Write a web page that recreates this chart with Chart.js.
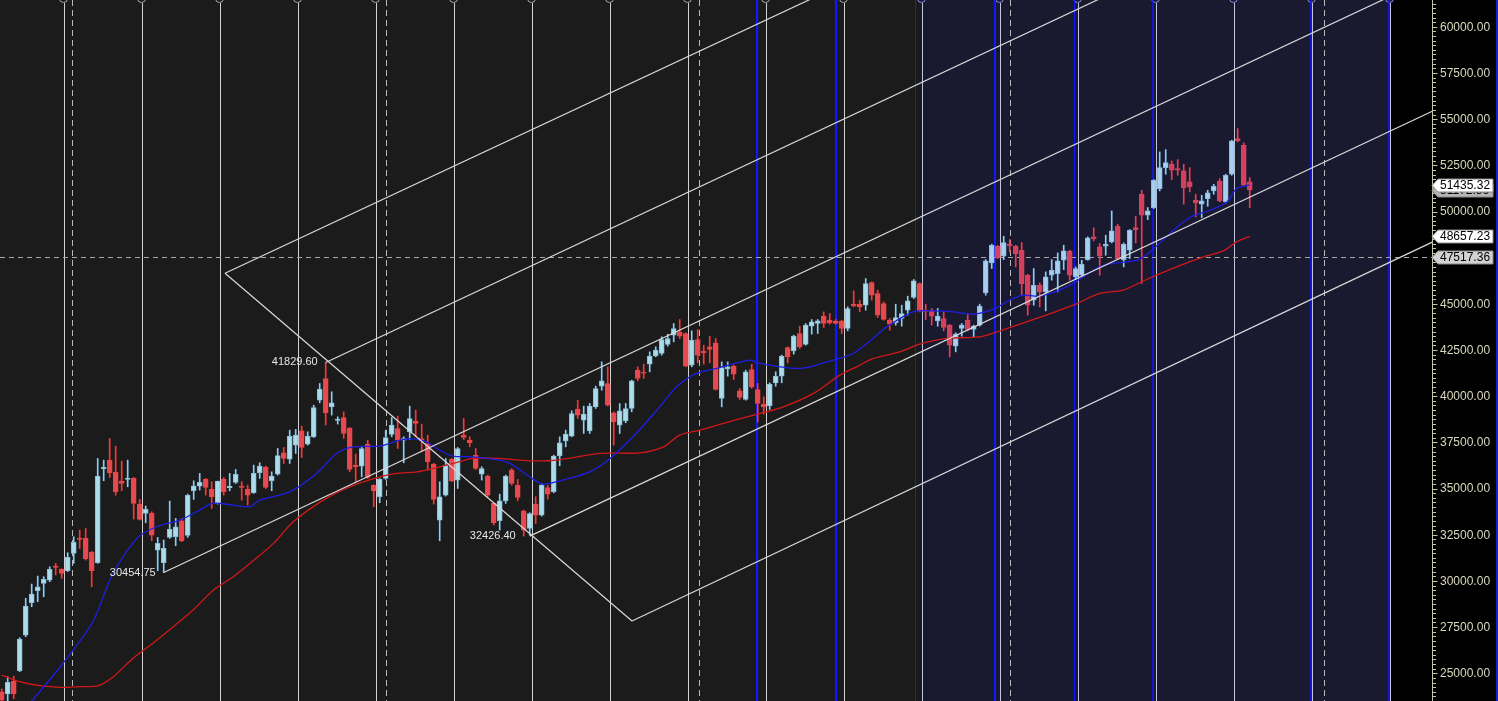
<!DOCTYPE html>
<html>
<head>
<meta charset="utf-8">
<title>Weekly chart</title>
<script src="https://cdn.jsdelivr.net/npm/chart.js@4.4.1/dist/chart.umd.min.js"></script>
<style>
  html, body { margin: 0; padding: 0; background: #000; }
  canvas { display: block; }
</style>
</head>
<body>
<canvas id="weeklyChart" width="1498" height="701"></canvas>
<script>
/* Weekly candles (index = week number) */
const opens = [
  24000, 23877, 24581, 25140, 27070, 28820, 29470, 29866, 30047, 30804,
  30624, 30552, 31490, 32320, 32302, 31562, 30985, 36072, 36541, 35874,
  35405, 35495, 35549, 34160, 33655, 33655, 31670, 30985, 32356, 32392,
  33258, 32464, 34882, 35134, 35495, 34954, 34196, 35495, 35044, 35333,
  35134, 34954, 34773, 35855, 36162, 35422, 35783, 36938, 36595, 37352,
  38128, 37406, 37803, 39788, 40961, 39427, 38687, 38850, 38273, 36270,
  36216, 37406, 35170, 34556, 35549, 37930, 38254, 37623, 38074, 38651,
  37713, 37442, 36324, 33293, 34646, 36577, 35458, 37894, 37623, 36811,
  35783, 35675, 34196, 33256, 34338, 36000, 35187, 33798, 32841, 34158,
  33563, 35060, 34826, 36774, 37586, 37838, 39300, 38704, 38127, 39426,
  40544, 40689, 39101, 38434, 38668, 39336, 41410, 41302, 41735, 42186,
  42312, 42799, 43305, 43485, 43395, 41681, 43070, 42439, 42673, 42890,
  39877, 41482, 41627, 40292, 39823, 41447, 40364, 39570, 39480, 40725,
  41086, 42637, 42457, 43395, 42800, 43792, 43936, 44333, 44116, 44062,
  44062, 43666, 44982, 44982, 44928, 46155, 45560, 45018, 44116, 43972,
  44207, 44658, 45343, 46101, 44658, 44622, 44080, 44207, 43846, 42709,
  43666, 44116, 43611, 43846, 45596, 47219, 48120, 47579, 48228, 48120,
  47903, 46550, 45197, 46009, 45648, 46550, 46640, 47362, 47849, 46460,
  46550, 47398, 48625, 48084, 48120, 48354, 49202, 47398, 47903, 49130,
  50934, 49797, 50213, 51241, 52377, 52558, 52323, 52197, 51602, 50609,
  50393, 50699, 51115, 51638, 50519, 52016, 53947, 53586, 51602
];
const highs = [
  24150, 24815, 24851, 26926, 29055, 29830, 30263, 30227, 30768, 30949,
  30660, 31526, 32392, 32753, 32843, 31600, 36631, 36541, 37714, 37299,
  36487, 36541, 35603, 34413, 34052, 33745, 32356, 32212, 34322, 33384,
  33384, 34701, 35423, 35820, 35549, 35369, 35405, 35603, 35820, 36036,
  35369, 35188, 36270, 36396, 36216, 35909, 37172, 37226, 38164, 38200,
  38381, 38074, 39517, 40690, 41829.6, 40239, 38886, 39156, 38309, 36865,
  37226, 37623, 35206, 35549, 38164, 38850, 38922, 37803, 39463, 39247,
  38489, 37894, 36360, 35368, 36631, 36631, 37226, 38796, 37803, 37172,
  36180, 35729, 34232, 34699, 35728, 36089, 35493, 33834, 33689, 34555,
  35241, 35187, 36810, 37802, 38163, 39210, 39787, 39462, 39606, 40544,
  41861, 41591, 39155, 39606, 39606, 40869, 41591, 41735, 42403, 42673,
  43214, 43359, 43936, 44152, 43431, 43539, 43611, 42763, 43250, 43124,
  41861, 41861, 41681, 40418, 41410, 41735, 40689, 39967, 40725, 41320,
  42222, 42673, 43305, 43792, 43936, 44152, 44152, 44567, 44477, 44152,
  44116, 44838, 45704, 45199, 46371, 46191, 45740, 45109, 44207, 44982,
  44928, 45415, 46317, 46137, 44982, 44748, 44748, 44567, 43882, 43431,
  43936, 44441, 43846, 44982, 47400, 48230, 48156, 48661, 48481, 48174,
  48318, 46604, 46911, 46135, 46731, 47398, 47759, 48174, 47903, 47001,
  47362, 48625, 49112, 48264, 48715, 50032, 49310, 48300, 49022, 49743,
  51151, 50213, 51728, 53225, 53351, 52738, 52810, 52558, 52377, 50934,
  50880, 51151, 51475, 51782, 52016, 53857, 54488, 53712, 51836
];
const lows = [
  23450, 23498, 23625, 25086, 26980, 28604, 28874, 29145, 29957, 30317,
  30137, 30500, 30949, 31761, 31129, 29686, 30949, 35423, 35603, 34647,
  34882, 35098, 33348, 33294, 33150, 32176, 30552, 30454.75, 32302, 31905,
  32121, 32356, 34413, 34918, 34647, 33925, 34160, 34647, 34882, 35278,
  34376, 34106, 34737, 35549, 35007, 34881, 35729, 36360, 36360, 36902,
  36685, 37352, 37767, 39643, 38435, 38976, 38489, 37713, 35909, 35314,
  35639, 35549, 34015, 34232, 35495, 37803, 37172, 36396, 37659, 37803,
  36992, 35999, 34159, 32175, 34592, 35368, 35007, 37659, 37262, 36035,
  35458, 34556, 33023, 32751, 34194, 35187, 34338, 32426.4, 32480, 33112,
  33509, 34429, 34772, 36233, 37261, 37802, 38795, 37983, 37983, 39336,
  40328, 39462, 37351, 37983, 38560, 39155, 40833, 40959, 41320, 42132,
  42222, 42709, 42944, 43124, 41591, 41591, 41807, 41735, 41807, 40328,
  39426, 41086, 40905, 39823, 39787, 40418, 38614, 39029, 39282, 40544,
  40725, 41807, 42276, 42583, 42763, 43359, 43395, 43720, 43900, 43900,
  43395, 43540, 44838, 44567, 44658, 45199, 44261, 44116, 43575, 43846,
  43792, 44387, 45289, 44567, 44152, 43846, 43792, 43540, 42132, 42403,
  43250, 43540, 43214, 43792, 45469, 46913, 47452, 47398, 47813, 47001,
  45468, 44386, 44927, 44837, 44620, 46280, 45648, 46857, 46280, 46316,
  46496, 47362, 48408, 46550, 47633, 48300, 47398, 47001, 47452, 48300,
  46099, 49563, 50159, 51115, 52017, 51728, 51962, 50393, 51061, 49707,
  49671, 50285, 50934, 50519, 50465, 51962, 53766, 51367, 50213
];
const closes = [
  23550, 24509, 23877, 26854, 28640, 29289, 29686, 30083, 30624, 30732,
  30408, 31274, 32085, 32248, 31201, 30552, 35675, 36144, 35856, 34827,
  35278, 35549, 34196, 33330, 33871, 32482, 32031, 31761, 32789, 32933,
  32176, 34629, 35152, 35333, 35062, 34557, 35405, 34827, 35116, 35766,
  35062, 34647, 35819, 36216, 35061, 35675, 36793, 36631, 37839, 37894,
  37226, 37839, 39391, 40383, 39102, 39643, 38759, 37984, 36035, 36180,
  37172, 35603, 34881, 35495, 37767, 38435, 37623, 37713, 38796, 38525,
  37587, 36450, 34412, 34556, 36270, 35422, 37172, 37767, 37479, 36089,
  36089, 34646, 33149, 34338, 35674, 35277, 34519, 32751, 33653, 33563,
  35187, 34699, 36756, 37478, 37947, 39065, 38975, 39029, 39462, 40418,
  40833, 39516, 38614, 39210, 39336, 40833, 40959, 41248, 42168, 42493,
  43070, 43124, 43665, 43250, 41627, 43034, 42222, 42348, 42529, 40364,
  41555, 41591, 41194, 39931, 41320, 40508, 39606, 39426, 40653, 41086,
  42168, 42132, 43252, 42673, 43846, 44026, 44080, 43936, 43972, 43936,
  43666, 44748, 44892, 44838, 46101, 45469, 44387, 44152, 43900, 44261,
  44477, 45163, 46245, 44622, 44585, 44333, 44333, 43720, 42763, 43359,
  43846, 43611, 43792, 44874, 47328, 48175, 47506, 48318, 48138, 47723,
  46099, 44927, 46009, 45648, 46460, 46821, 47326, 47867, 46550, 46911,
  47146, 48571, 48517, 47579, 48228, 48950, 47452, 48228, 48986, 49022,
  49797, 50032, 51692, 52377, 52648, 52233, 52233, 51277, 51331, 50465,
  50573, 51006, 51367, 50573, 51962, 53820, 53820, 51421, 51172.86
];

/* Moving averages (week index, value) */
const fastMaIdx = [0, 5, 10, 15.2, 18.3, 22.5, 25.8, 29.7, 33, 35.1, 38.5, 41.4, 43, 48, 52.5, 55.8, 58.6, 63, 66.4, 68.5,
  70.8, 73, 75.2, 78.5, 83, 84.7, 88, 90.2, 93.5, 98, 101.4, 105.2, 109.2, 112.5, 115.8, 119.2, 124.7, 126.4, 133.1, 137.5,
  141.9, 145.2, 147.5, 151.9, 155.2, 158.6, 161.9, 165.2, 168, 170.2, 173, 177.5, 183, 185.8, 189.2, 191.4, 194.7, 198, 201.4,
  204.2, 205.8, 208];
const fastMaVal = [21600, 23501, 25449, 27792, 30227, 32305, 32933, 33295, 33836, 34199, 34107, 34015, 34377, 34826, 35822,
  36904, 37261, 37299, 37624, 37694, 37532, 37083, 36758, 36720, 36541, 36363, 35638, 35243, 35459, 35909, 36634, 37802,
  39247, 40508, 41233, 41504, 41953, 41774, 41504, 41861, 42315, 43127, 43755, 44566, 44620, 44566, 44442, 44696, 45199,
  45470, 45416, 45919, 47001, 47217, 47363, 47813, 48808, 49674, 50069, 50518, 51243, 51435.32];
const slowMaIdx = [0, 3, 6.4, 9.7, 13, 16.1, 18.6, 21.9, 25.3, 28.6, 31.9, 35.3, 38.6, 41.4, 45.3, 48.6, 53.6, 58, 63, 65.8,
  69.2, 71.9, 75.3, 78.6, 83, 88, 92.5, 99.7, 106.4, 110.3, 113, 116.4, 120.3, 124.7, 126.4, 130.3, 135.3, 139.7, 142.5,
  145.3, 149.7, 153, 157.5, 163, 166.4, 172, 178.6, 183, 186.9, 190.8, 195.8, 200.3, 203.6, 205.8, 208];
const slowMaVal = [24900, 24545, 24329, 24242, 24275, 24329, 24816, 25812, 26656, 27522, 28425, 29507, 30227, 30952, 32034,
  33203, 34377, 35097, 35638, 35822, 35909, 36093, 36363, 36634, 36634, 36504, 36542, 36904, 36937, 37261, 37894, 38165,
  38528, 38923, 39069, 39426, 40151, 41141, 41590, 42045, 42402, 42819, 43127, 43213, 43538, 44155, 44929, 45562, 45740,
  46319, 47001, 47542, 47867, 48354, 48657.23];

/* Drawn trend lines: [startIdx, startValue, endIdx, endValue] */
const trendLines = [
  [37.22, 46660, 136.4, 61737],
  [37.22, 46660, 105.05, 27830],
  [54, 41829.6, 185, 61820],
  [27, 30454.75, 232, 61738],
  [88, 32426.4, 240, 55670],
  [105.05, 27830, 240, 48584]
];

/* Marked swing points */
const pivotIdx = [54, 27, 87];
const pivotVal = [41829.60, 30454.75, 32426.40];

/* Vertical markers (week index) */
const quarterLines = [10.17, 23.17, 36.17, 49.17, 62.17, 75.17, 88.17, 101.17, 114.17, 127.17, 140.17, 153.17, 166.17,
  179.17, 192.17, 205.17, 218.17, 231.17];
const cycleLines = [125.93, 139.1, 152.27, 165.5, 178.67, 191.83, 218.17, 231.17];
const yearLines = [11.77, 64.0, 116.17, 168.05, 220.43];
const zoneStart = 153.05;
const zoneEnd = 231.4;

/* Price tags on the axis and the dashed level */
const tagValues = [51172.86, 48657.23, 47517.36, 51435.32];
const levelValue = 47517.36;
const minorStep = 250;
const labelStep = 2500;

const cycleWidths = [2.2, 2.2, 1, 2, 1, 1.5, 1.5, 1.5];
const tagFills = ['#b4b4b4', '#ffffff', '#d2d2d2', '#ffffff'];
const axisColor = '#c8c8a8';

const isUp = i => closes[i] >= opens[i];
const inZone = i => i >= zoneStart;

const bodies = opens.map((o, i) => ({x: i, y: [o, closes[i]]}));
const wicks = lows.map((l, i) => ({x: i, y: [l, highs[i]]}));

function vline(ctx, x, top, bottom, color, width, dash) {
  ctx.save();
  ctx.strokeStyle = color;
  ctx.lineWidth = width;
  ctx.setLineDash(dash || []);
  const px = width % 2 === 1 ? Math.round(x) + 0.5 : Math.round(x);
  ctx.beginPath();
  ctx.moveTo(px, top);
  ctx.lineTo(px, bottom);
  ctx.stroke();
  ctx.restore();
}

const decor = {
  id: 'decor',
  beforeDraw(chart) {
    const {ctx, chartArea: a, scales: {x}} = chart;
    const split = x.getPixelForValue(zoneStart);
    const end = x.getPixelForValue(zoneEnd);
    ctx.save();
    ctx.fillStyle = '#000';
    ctx.fillRect(0, 0, chart.width, chart.height);
    ctx.fillStyle = '#1b1b1b';
    ctx.fillRect(a.left, a.top, split - a.left, a.bottom - a.top);
    ctx.fillStyle = '#191a2f';
    ctx.fillRect(split, a.top, end - split, a.bottom - a.top);
    ctx.restore();
  },
  beforeDatasetsDraw(chart) {
    const {ctx, chartArea: a, scales: {x, y}} = chart;
    ctx.save();
    ctx.beginPath();
    ctx.rect(a.left, a.top, a.right - a.left, a.bottom - a.top);
    ctx.clip();

    yearLines.forEach(i => vline(ctx, x.getPixelForValue(i), a.top, a.bottom, '#b9b9b9', 1, [6, 4]));
    quarterLines.forEach(i => {
      const px = Math.round(x.getPixelForValue(i)) + 0.5;
      vline(ctx, px, a.top + 3, a.bottom, inZone(i) ? '#c4c4d8' : '#d2d2d2', 1);
      ctx.beginPath();
      ctx.arc(px, -1.5, 4, 0, Math.PI * 2);
      ctx.fillStyle = inZone(i) ? '#191a2f' : '#1b1b1b';
      ctx.fill();
      ctx.strokeStyle = inZone(i) ? '#8c8cd8' : '#a8a8a8';
      ctx.lineWidth = 1;
      ctx.stroke();
    });
    cycleLines.forEach((i, k) => vline(ctx, x.getPixelForValue(i), a.top, a.bottom, '#1018ff', cycleWidths[k]));

    // dashed level line
    const ly = Math.round(y.getPixelForValue(levelValue)) + 0.5;
    ctx.strokeStyle = '#a8a8a8';
    ctx.lineWidth = 1;
    ctx.setLineDash([5, 4]);
    ctx.beginPath();
    ctx.moveTo(a.left, ly);
    ctx.lineTo(a.right, ly);
    ctx.stroke();
    ctx.restore();
  },
  afterDraw(chart) {
    const {ctx, chartArea: a, scales: {x, y}} = chart;
    ctx.save();

    // price axis: line, minor/major ticks and labels placed by the y scale
    const ax = Math.round(a.right) + 0.5;
    const first = Math.ceil(y.min / minorStep) * minorStep;
    ctx.strokeStyle = axisColor;
    ctx.lineWidth = 1;
    ctx.beginPath();
    ctx.moveTo(ax, 0);
    ctx.lineTo(ax, chart.height);
    for (let v = first; v <= y.max; v += minorStep) {
      const ty = Math.round(y.getPixelForValue(v)) + 0.5;
      ctx.moveTo(ax, ty);
      ctx.lineTo(ax + (v % labelStep === 0 ? 5 : 3.5), ty);
    }
    ctx.stroke();
    ctx.font = '12px "Liberation Sans", Arial, sans-serif';
    ctx.fillStyle = '#d8d8bc';
    ctx.textAlign = 'left';
    ctx.textBaseline = 'middle';
    for (let v = first; v <= y.max; v += minorStep) {
      if (v % labelStep === 0) {
        ctx.fillText(v.toFixed(2), a.right + 8, y.getPixelForValue(v) + 0.5);
      }
    }

    // swing point labels
    ctx.font = '11px "Liberation Sans", Arial, sans-serif';
    ctx.fillStyle = '#e6e6e6';
    ctx.textAlign = 'right';
    pivotIdx.forEach((i, k) => {
      ctx.fillText(pivotVal[k].toFixed(2), x.getPixelForValue(i) - 8, y.getPixelForValue(pivotVal[k]));
    });

    // price tags
    ctx.font = '12px "Liberation Sans", Arial, sans-serif';
    ctx.textAlign = 'left';
    tagValues.forEach((v, k) => {
      const ty = Math.round(y.getPixelForValue(v)) + 0.5;
      const left = a.right;
      ctx.beginPath();
      ctx.moveTo(left, ty);
      ctx.lineTo(left + 6, ty - 6.5);
      ctx.lineTo(left + 61, ty - 6.5);
      ctx.lineTo(left + 61, ty + 6.5);
      ctx.lineTo(left + 6, ty + 6.5);
      ctx.closePath();
      ctx.fillStyle = tagFills[k];
      ctx.fill();
      ctx.strokeStyle = '#8a8a8a';
      ctx.lineWidth = 1;
      ctx.stroke();
      ctx.fillStyle = '#000';
      ctx.fillText(v.toFixed(2), left + 8, ty + 0.5);
    });

    // right frame edge
    vline(ctx, chart.width - 1.5, 0, chart.height, '#1830ff', 1.5);
    ctx.restore();
  }
};

const ctx = document.getElementById('weeklyChart').getContext('2d');
const weeklyChart = new Chart(ctx, {
  type: 'bar',
  data: {
    datasets: [
      ...trendLines.map(t => ({
        type: 'line',
        data: [{x: t[0], y: t[1]}, {x: t[2], y: t[3]}],
        borderColor: '#d9d9d9',
        borderWidth: 1.2,
        pointRadius: 0,
        order: 0
      })),
      {
        type: 'line',
        label: 'fast',
        data: fastMaIdx.map((i, k) => ({x: i, y: fastMaVal[k]})),
        borderColor: '#1e1ee6',
        borderWidth: 1.3,
        pointRadius: 0,
        tension: 0.3,
        order: 1
      },
      {
        type: 'line',
        label: 'slow',
        data: slowMaIdx.map((i, k) => ({x: i, y: slowMaVal[k]})),
        borderColor: '#d21818',
        borderWidth: 1.3,
        pointRadius: 0,
        tension: 0.3,
        order: 1
      },
      {
        label: 'body',
        data: bodies,
        grouped: false,
        barThickness: 5,
        minBarLength: 1,
        borderWidth: 1,
        borderSkipped: false,
        backgroundColor: c => isUp(c.dataIndex) ? (inZone(c.dataIndex) ? '#a6cff0' : '#acdcec')
                                                : (inZone(c.dataIndex) ? '#d2405e' : '#e64a50'),
        borderColor: c => isUp(c.dataIndex) ? (inZone(c.dataIndex) ? '#86b8e6' : '#82c0dc')
                                            : (inZone(c.dataIndex) ? '#e0405a' : '#f84040'),
        order: 2
      },
      {
        label: 'wick',
        data: wicks,
        grouped: false,
        barThickness: 1,
        borderWidth: 0,
        backgroundColor: c => isUp(c.dataIndex) ? '#87cefa' : (inZone(c.dataIndex) ? '#f03a52' : '#ff3535'),
        order: 3
      }
    ]
  },
  options: {
    responsive: false,
    animation: false,
    devicePixelRatio: 1,
    layout: { padding: 0 },
    plugins: {
      legend: { display: false },
      tooltip: { enabled: false }
    },
    scales: {
      x: {
        type: 'linear',
        min: -0.283,
        max: 238.38,
        offset: false,
        display: false
      },
      y: {
        position: 'right',
        min: 23500,
        max: 61450,
        border: { display: false },
        grid: { display: false },
        ticks: { display: false },
        afterFit: function(scale) {
          scale.width = 66;
          scale.paddingTop = 0;
          scale.paddingBottom = 0;
        }
      }
    }
  },
  plugins: [decor]
});
</script>
</body>
</html>
